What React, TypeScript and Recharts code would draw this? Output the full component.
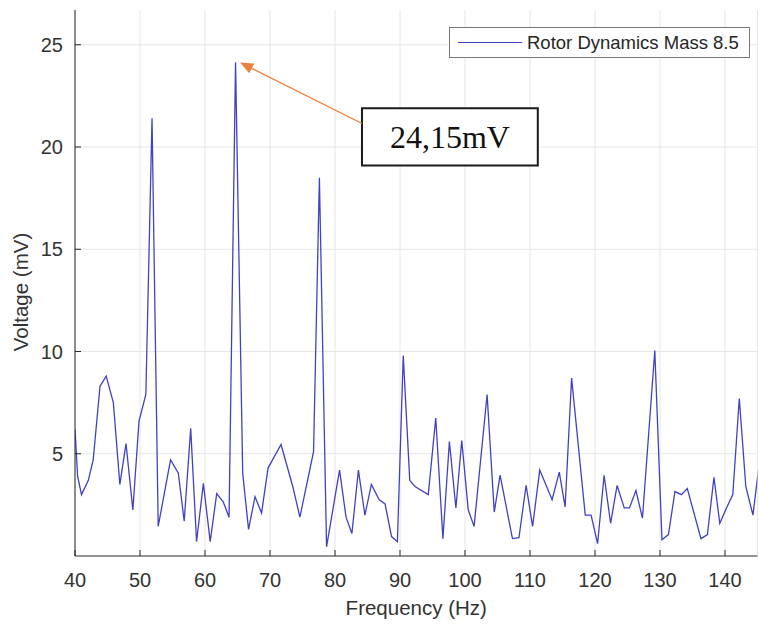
import React from "react"
import {
  LineChart, Line, XAxis, YAxis, CartesianGrid, Legend,
  ReferenceArea, ReferenceLine,
} from "recharts"

// spectrum (Hz / mV)
const freq = [
  40.0, 40.4, 41.0, 42.05, 42.8, 43.85, 44.8, 45.9, 46.9, 47.85, 48.9, 49.85,
  50.9, 51.85, 52.8, 54.7, 55.9, 56.8, 57.8, 58.7, 59.75, 60.8, 61.8, 62.8,
  63.7, 64.7, 65.8, 66.7, 67.7, 68.7, 69.7, 71.7, 73.5, 74.6, 76.7, 77.6,
  78.7, 80.7, 81.7, 82.6, 83.6, 84.6, 85.6, 86.8, 87.7, 88.7, 89.6, 90.5,
  91.5, 92.3, 94.35, 95.5, 96.6, 97.6, 98.6, 99.5, 100.5, 101.4, 103.4, 104.5,
  105.4, 107.3, 108.3, 109.4, 110.4, 111.5, 113.4, 114.5, 115.4, 116.4, 118.5, 119.4,
  120.4, 121.4, 122.4, 123.4, 124.5, 125.3, 126.3, 127.3, 129.2, 130.3, 131.3, 132.3,
  133.3, 134.2, 136.3, 137.3, 138.3, 139.2, 140.3, 141.2, 142.2, 143.2, 144.3, 145.3,
]

const voltage = [
  6.2, 3.9, 3.0, 3.7, 4.7, 8.3, 8.8, 7.5, 3.5, 5.5, 2.25, 6.6,
  7.9, 21.4, 1.45, 4.7, 4.05, 1.7, 6.25, 0.7, 3.55, 0.7, 3.05, 2.65,
  1.9, 24.15, 4.05, 1.3, 2.9, 2.1, 4.3, 5.45, 3.4, 1.9, 5.1, 18.5,
  0.45, 4.2, 1.9, 1.1, 4.2, 2.0, 3.5, 2.75, 2.55, 0.95, 0.7, 9.8,
  3.7, 3.4, 3.0, 6.75, 0.85, 5.6, 2.35, 5.65, 2.25, 1.45, 7.9, 2.15,
  3.95, 0.85, 0.9, 3.45, 1.45, 4.2, 2.75, 4.1, 2.4, 8.7, 2.0, 2.0,
  0.6, 3.95, 1.6, 3.45, 2.35, 2.35, 3.2, 1.85, 10.05, 0.8, 1.05, 3.15,
  3.0, 3.3, 0.85, 1.05, 3.85, 1.6, 2.4, 3.0, 7.7, 3.4, 2.0, 4.6,
]

const xTicks = [40, 50, 60, 70, 80, 90, 100, 110, 120, 130, 140]
const yTicks = [5, 10, 15, 20, 25]

const SERIES_NAME = "Rotor Dynamics Mass 8.5"
const PEAK_LABEL = "24,15mV"

// annotation, in data units
const peakTip = { x: 65.4, y: 24.13 }
const arrowTail = { x: 84.15, y: 21.15 }
const calloutBox = { x1: 84.15, x2: 111.2, y1: 19.1, y2: 21.9 }

const data = freq.map((f, i) => ({ f, v: voltage[i] }))

const FONT = "'Liberation Sans', Arial, sans-serif"
const TEXT = "#333"
const AXIS = "#262626"

const XTick = ({ x, y, payload }: any) => (
  <g>
    <line x1={x} y1={y} x2={x} y2={y - 6} stroke={AXIS} />
    <text x={x} y={y + 31} textAnchor="middle" fontSize={20} fontFamily={FONT} fill={TEXT}>
      {payload.value}
    </text>
  </g>
)

const TopTick = ({ x, y }: any) => <line x1={x} y1={y} x2={x} y2={y + 6} stroke={AXIS} />

const YTick = ({ x, y, payload }: any) => (
  <g>
    <line x1={x} y1={y} x2={x + 6} y2={y} stroke={AXIS} />
    <text x={x - 12} y={y + 7} textAnchor="end" fontSize={20} fontFamily={FONT} fill={TEXT}>
      {payload.value}
    </text>
  </g>
)

const Arrow = (props: any) => {
  const { x1, y1, x2, y2 } = props
  const dx = x2 - x1
  const dy = y2 - y1
  const len = Math.sqrt(dx * dx + dy * dy) || 1
  const ux = dx / len
  const uy = dy / len
  const hl = 13
  const hw = 5.5
  const bx = x2 - ux * hl
  const by = y2 - uy * hl
  return (
    <g>
      <line x1={x1} y1={y1} x2={bx} y2={by} stroke="#ec7f3c" strokeWidth={1.3} />
      <polygon
        points={`${x2},${y2} ${bx - uy * hw},${by + ux * hw} ${bx + uy * hw},${by - ux * hw}`}
        fill="#ec7f3c"
      />
    </g>
  )
}

const LegendBox = () => (
  <div
    style={{
      boxSizing: "border-box", width: 301, height: 31, background: "#fff",
      border: "1px solid #777", display: "flex", alignItems: "center",
      fontFamily: FONT, fontSize: 18.5, color: AXIS,
    }}
  >
    <span style={{ display: "inline-block", width: 64, height: 0, borderTop: "1.3px solid #4040c8", marginLeft: 8 }} />
    <span style={{ marginLeft: 5, whiteSpace: "nowrap" }}>{SERIES_NAME}</span>
  </div>
)

export default function App() {
  return (
    <div style={{ width: 759, height: 625, background: "#fff", position: "relative" }}>
      <style>{"body{margin:0}"}</style>
      <LineChart width={759} height={625} data={data} margin={{ top: 10, right: 1.5, left: 0, bottom: 0 }}>
        <CartesianGrid stroke="#e6e6e6" horizontalValues={yTicks} />
        <XAxis
          dataKey="f"
          type="number"
          domain={[40, 145]}
          ticks={xTicks}
          allowDataOverflow
          height={69}
          tickSize={0}
          tickMargin={0}
          tickLine={false}
          axisLine={{ stroke: AXIS }}
          tick={<XTick />}
          label={{
            content: ({ viewBox }: any) => (
              <text
                x={viewBox.x + viewBox.width / 2}
                y={615}
                textAnchor="middle"
                fontSize={20.5}
                fontFamily={FONT}
                fill={TEXT}
              >
                Frequency (Hz)
              </text>
            ),
          }}
        />
        <XAxis
          xAxisId="top"
          orientation="top"
          dataKey="f"
          type="number"
          domain={[40, 145]}
          ticks={xTicks}
          allowDataOverflow
          height={0}
          tickSize={0}
          tickMargin={0}
          tickLine={false}
          axisLine={{ stroke: AXIS }}
          tick={<TopTick />}
        />
        <YAxis
          type="number"
          domain={[0, 26.7]}
          ticks={yTicks}
          allowDataOverflow
          width={75}
          tickSize={0}
          tickMargin={0}
          tickLine={false}
          axisLine={{ stroke: AXIS }}
          tick={<YTick />}
          label={{
            content: () => (
              <text
                x={28}
                y={292}
                transform="rotate(-90, 28, 292)"
                textAnchor="middle"
                fontSize={20.5}
                fontFamily={FONT}
                fill={TEXT}
              >
                Voltage (mV)
              </text>
            ),
          }}
        />
        <Legend
          layout="vertical"
          align="center"
          verticalAlign="middle"
          wrapperStyle={{ top: 27, left: 449, width: 301, height: 31 }}
          content={() => <LegendBox />}
        />
        <Line
          type="linear"
          dataKey="v"
          name={SERIES_NAME}
          stroke="#4040c8"
          strokeWidth={1.3}
          dot={false}
          activeDot={false}
          isAnimationActive={false}
        />
        <ReferenceLine segment={[arrowTail, peakTip]} shape={<Arrow />} />
        <ReferenceArea
          x1={calloutBox.x1}
          x2={calloutBox.x2}
          y1={calloutBox.y1}
          y2={calloutBox.y2}
          fill="#fff"
          fillOpacity={1}
          stroke="#1a1a1a"
          strokeWidth={2}
          label={{
            content: ({ viewBox }: any) => (
              <text
                x={viewBox.x + viewBox.width / 2}
                y={viewBox.y + viewBox.height / 2 + 11}
                textAnchor="middle"
                fontSize={32}
                fontFamily="'Liberation Serif', 'Times New Roman', serif"
                fill="#111"
              >
                {PEAK_LABEL}
              </text>
            ),
          }}
        />
      </LineChart>
    </div>
  )
}
